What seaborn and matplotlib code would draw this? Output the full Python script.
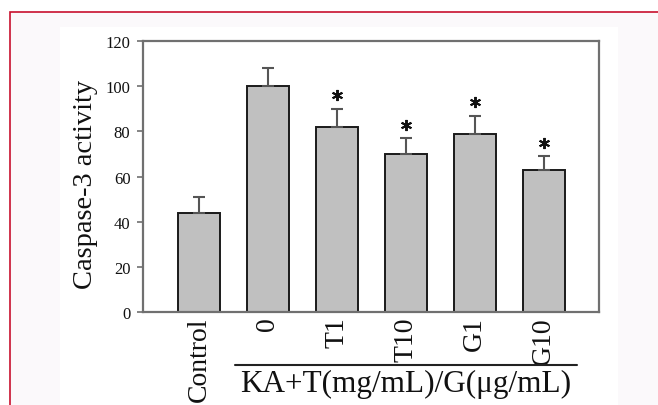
import matplotlib
matplotlib.use('Agg')
import matplotlib.pyplot as plt
import seaborn as sns
import numpy as np
from matplotlib.patches import Rectangle
from matplotlib.lines import Line2D

sns.set_theme(style='white')
plt.rcParams['font.family'] = ['Liberation Serif', 'DejaVu Serif']

groups = ['Control', '0', 'T1', 'T10', 'G1', 'G10']
activity = [44, 100, 82, 70, 79, 63]
sem = [7, 8, 8, 7, 8, 6]
significant = [False, False, True, True, True, True]
ylabel = 'Caspase-3 activity'
group_label = 'KA+T(mg/mL)/G(\u03bcg/mL)'


def main(outpath):
    fig = plt.figure(figsize=(6.58, 4.06), dpi=100, facecolor='white')
    # page frame and white panel behind the figure
    fig.patches.append(Rectangle((9.5 / 658, -0.1), 2, 1.1 - 12.5 / 406,
                                 transform=fig.transFigure, facecolor='#fbf9fb',
                                 edgecolor='#c8102e', linewidth=1.2, zorder=-3))
    fig.patches.append(Rectangle((60 / 658, -0.1), 558 / 658, 0.1 + 1 - 28 / 406,
                                 transform=fig.transFigure, facecolor='white',
                                 edgecolor='none', zorder=-2))

    ax = fig.add_axes([143 / 658, 1 - 313 / 406, 456 / 658, 271 / 406])
    ax.set_facecolor('white')
    x = np.arange(len(groups))
    sns.barplot(x=groups, y=activity, order=groups, color='#c0c0c0', saturation=1,
                width=0.6, edgecolor='#1a1a1a', linewidth=1.4, ax=ax)
    ax.errorbar(x, activity, yerr=[np.zeros(len(sem)), sem], fmt='none',
                ecolor='#555555', elinewidth=1.5, capsize=4, capthick=1.5, zorder=1)
    sig = np.array(significant)
    tops = np.array(activity) + np.array(sem) + 6
    ax.plot(x[sig], tops[sig], linestyle='none', marker=(6, 2, 0), markersize=8,
            markeredgewidth=1.4, color='#111111')

    ax.set_ylim(0, 120)
    ax.set_xlim(-0.81, 5.8)
    ax.set_yticks([0, 20, 40, 60, 80, 100, 120])
    for s in ax.spines.values():
        s.set_color('#707070')
        s.set_linewidth(1.6)
    ax.tick_params(axis='y', left=True, length=4, width=1.2, color='#707070',
                   pad=5, labelsize=12, labelcolor='#111111')
    ax.tick_params(axis='x', bottom=False, length=0, pad=3, labelsize=20,
                   labelcolor='#111111')
    plt.setp(ax.get_xticklabels(), rotation=90)
    ax.set_ylabel(ylabel, fontsize=20.5, color='#111111')
    ax.yaxis.set_label_coords(-0.098, 0.475)
    ax.set_xlabel('')

    fig.lines.append(Line2D([235 / 658, 577 / 658], [1 - 366 / 406, 1 - 366 / 406],
                            transform=fig.transFigure, color='#222222', linewidth=1.5))
    fig.text(406 / 658, 1 - 392 / 406, group_label, ha='center', va='baseline',
             fontsize=22.5, color='#111111')

    plt.savefig(outpath, dpi=100, facecolor=fig.get_facecolor())


if __name__ == '__main__':
    main('out.png')
